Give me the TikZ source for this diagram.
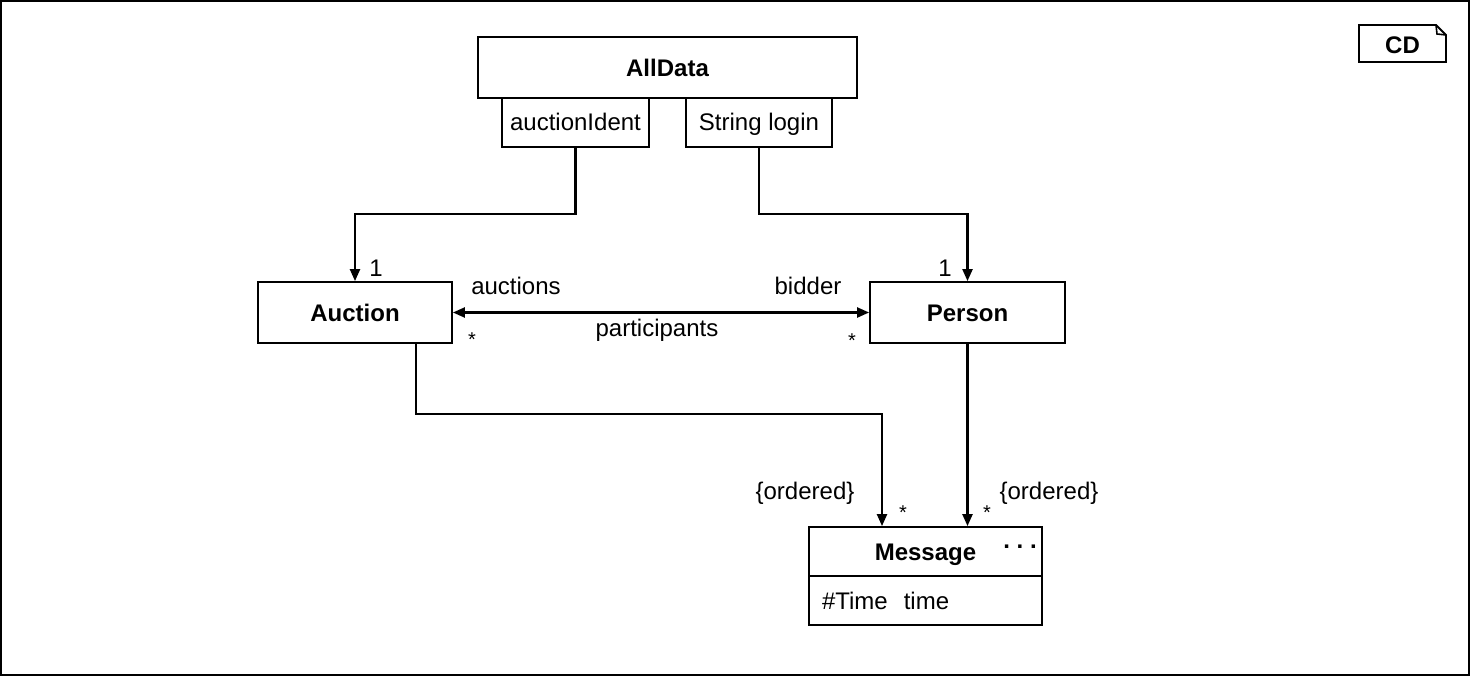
\documentclass[tikz,border=0pt]{standalone}
\usepackage{fontspec}
\setmainfont{Liberation Sans}
\usepackage{tikz}
\usetikzlibrary{positioning, arrows.meta, calc}

\begin{document}
\begin{tikzpicture}[
  x=0.5bp, y=-0.5bp,
  every node/.style={font=\fontsize{12bp}{14bp}\selectfont},
  classbox/.style={draw, line width=0.9bp, minimum height=30.5bp, inner sep=0pt,
               text height=10bp, text depth=1.5bp,
               font=\fontsize{12bp}{14bp}\selectfont\bfseries},
  keybox/.style={draw, line width=0.9bp, minimum height=24.5bp, inner sep=0pt,
               text height=10bp, text depth=1.5bp},
  assoc/.style={line width=1.1bp, -{Triangle[length=6bp, width=5bp]}},
  mult/.style={inner sep=0pt, font=\fontsize{10bp}{11bp}\selectfont}
]
  \useasboundingbox (0,0) rectangle (1470,677);
  \draw[line width=0.8bp] (1,1) rectangle (1469,675);

  %% Diagram tag
  \node[font=\fontsize{12bp}{14bp}\selectfont\bfseries] (cd) at (1402.5,45) {CD};
  \draw[line width=0.9bp] (1359,25) -- (1436,25) -- (1446,35) -- (1446,62)
    -- (1359,62) -- cycle;
  \draw[line width=0.8bp] (1436,25) -- (1437,34) -- (1446,35);

  %% Classes
  \node[classbox, minimum width=189.5bp] (alldata) at (667.5,67.5) {AllData};
  \node[keybox, minimum width=73.5bp] (ident) at (575.5,122.5) {auctionIdent};
  \node[keybox, minimum width=73bp]   (login) at (759,122.5)   {String login};
  \node[classbox, minimum width=97bp]   (auction) at (355,312.5) {Auction};
  \node[classbox, minimum width=97.5bp] (person)  at (967.5,312.5) {Person};
  \node[classbox, minimum width=116.5bp, minimum height=24.5bp] (msghead)
    at (925.5,551.5) {Message};
  \node[keybox, minimum width=116.5bp, text width=103.5bp, align=left,
        inner xsep=6.5bp] (msgattr) at (925.5,600.5) {\#Time~~time};
  \node[inner sep=0pt, anchor=base, font=\fontsize{12bp}{14bp}\selectfont\bfseries]
    (dots) at (1020,548) {.\ .\ .};

  %% Qualified associations from AllData
  \draw[assoc] (ident.south) -- ++(0,66) -| (auction.north);
  \draw[assoc] (login.south) -- ++(0,66) -| (person.north);
  \node (one1)  at (376,268) {1};
  \node (one2)  at (945,268) {1};

  %% Auction -- Person
  \draw[assoc, {Triangle[length=6bp, width=5bp]}-{Triangle[length=6bp, width=5bp]}]
    (auction.east) -- (person.west);
  \node (auctions) at (516,286) {auctions};
  \node (bidder)   at (808,286) {bidder};
  \node (particip) at (657,330) {participants};
  \node[mult] (st1) at (472,340) {*};
  \node[mult] (st2) at (852,341) {*};

  %% Message links
  \draw[assoc] ($(auction.south)+(61,0)$) -- ++(0,70)
    -| ($(msghead.north)+(-43.5,0)$);
  \draw[assoc] (person.south) -- (person.south |- msghead.north);
  \node (ord1) at (805,493) {\{ordered\}};
  \node (ord2) at (1049,493) {\{ordered\}};
  \node[mult] (st3) at (903,513) {*};
  \node[mult] (st4) at (987,513) {*};
\end{tikzpicture}
\end{document}
